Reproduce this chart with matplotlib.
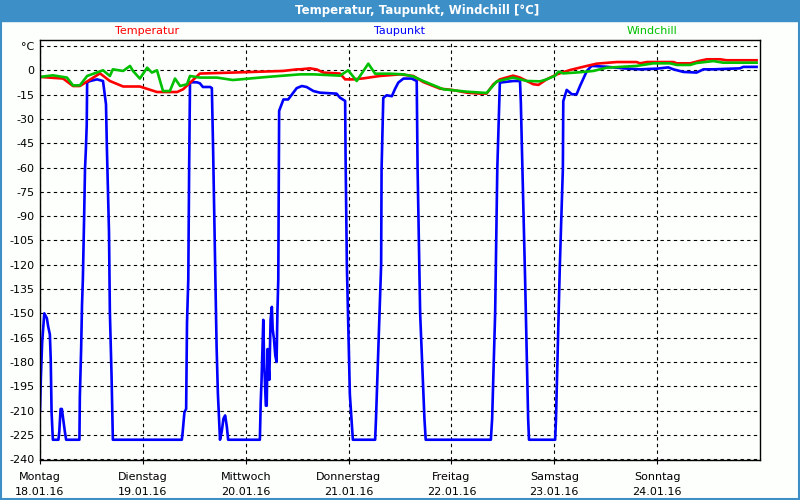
import numpy as np
import matplotlib.pyplot as plt
from matplotlib.patches import Rectangle

# hours since Monday 18.01.16 00:00
tau_h = [0.0, 0.2, 0.5, 1.0, 1.6, 1.9, 2.3, 2.5, 2.7, 3.0, 4.3, 4.5, 4.8, 5.1, 5.4, 5.8, 6.1,
         9.2, 9.3, 9.6, 9.8, 10.0, 10.1, 10.3, 10.5, 10.7, 10.9, 11.0, 11.7, 13.3, 14.7, 15.4, 15.6,
         16.1, 16.3, 16.7, 17.0, 33.1, 33.3, 33.7, 34.1, 34.3, 34.6, 34.8, 35.0, 36.6, 37.3, 38.0,
         39.7, 40.1, 40.4, 40.8, 41.2, 41.5, 42.0, 42.4, 42.8, 43.2, 43.6, 43.9, 51.3, 51.5, 51.7,
         52.1, 52.3, 52.7, 52.9, 53.1, 53.5, 53.8, 54.1, 54.3, 54.6, 54.9, 55.2, 55.4, 55.6, 55.8,
         56.8, 57.9, 59.1, 59.9, 61.1, 62.2, 63.8, 65.3, 69.2, 70.0, 71.2, 71.3, 71.6, 72.3, 73.0,
         78.2, 78.4, 79.6, 79.7, 80.1, 80.9, 82.1, 82.8, 83.6, 84.8, 86.7, 87.9, 88.1, 88.7, 89.7,
         90.0, 105.2, 105.5, 106.2, 106.7, 107.3, 110.4, 112.0, 112.2, 112.4, 113.2, 113.9, 114.1,
         120.2, 120.4, 121.3, 122.0, 122.1, 122.9, 124.1, 125.2, 126.0, 127.6, 128.7, 132.2, 136.1,
         140.0, 143.9, 146.6, 147.8, 150.1, 153.2, 154.8, 157.1, 163.3, 164.1, 167.2]
tau_v = [-210, -190, -168, -150, -153, -158, -163, -178, -211, -228, -228, -223, -209, -209, -215, -223, -228,
         -228, -201, -172, -145, -129, -117, -90, -61, -49, -34, -7.4, -6.6, -5.6, -6.6, -21, -47,
         -100, -149, -189, -228, -228, -223, -211, -209, -156, -129, -60, -7.4, -7.4, -8, -10.3,
         -10.3, -11, -50, -110, -170, -199, -228, -223, -215, -213, -220, -228, -228, -205, -191,
         -154, -180, -207, -207, -172, -191, -154, -146, -160, -166, -176, -180, -149, -129, -25,
         -18, -18, -13.8, -11, -9.7, -10.3, -12.8, -13.8, -14.4, -16.9, -18.9, -53, -120, -200, -228,
         -228, -215, -120, -61, -17, -15.4, -16, -11.7, -7.6, -5.1, -5.1, -6.6, -60, -150, -215,
         -228, -228, -215, -150, -61, -7.6, -6.6, -6.6, -20, -43, -130, -215, -228,
         -228, -215, -120, -61, -19, -12.1, -14.8, -14.8, -9.7, -0.4, 2.7, 2.2, 1.2,
         0.6, 1.0, 1.8, 0.6, -1, -1.4, 0.6, 0.6, 1.2, 2.1, 2.1]

temp_h = [0, 5.4, 7.7, 9.3, 14.0, 16.3, 19.4, 23.3, 27.3, 32.0, 33.4, 37.3, 45.0, 56.7, 60.0, 60.7,
          63.0, 64.6, 66.1, 70.0, 71.2, 73.1, 75.4, 79.3, 84.0, 87.1, 89.4, 93.3, 96.4, 99.6, 102.7,
          104.2, 105.8, 107.3, 110.4, 112.0, 115.1, 116.3, 118.2, 120.6, 123.7, 127.6, 129.9, 134.6,
          139.2, 140.0, 141.6, 147.8, 148.6, 151.7, 154.0, 155.6, 158.7, 160.2, 167.2]
temp_v = [-4.1, -5.1, -9.7, -9.7, -1.9, -6.6, -10, -10, -13.4, -13.4, -11.7, -2, -1.4, -0.4, 0.6, 0.6,
          1.2, 0.5, -1.4, -2, -5.6, -5.6, -5, -3.5, -2.5, -3.5, -7.2, -11.3, -12.2, -13.8, -14.4,
          -14.4, -8.6, -5.6, -3.3, -4.5, -8.6, -9, -5.6, -2.5, 0.2, 2.7, 4.1, 5.1,
          5.1, 4.3, 5.1, 5.1, 4.3, 4.3, 5.9, 6.8, 6.8, 6.2, 6.2]

wind_h = [0, 3.0, 6.3, 7.7, 9.3, 11.0, 14.7, 16.3, 17.0, 19.4, 21.0, 21.7, 23.3, 25.0, 26.1, 27.3,
          28.7, 30.3, 31.5, 32.7, 34.3, 35.0, 37.3, 41.3, 45.0, 53.0, 60.7, 63.8, 70.0, 71.9, 73.9,
          76.6, 78.2, 81.7, 84.8, 87.1, 89.4, 94.1, 99.6, 104.2, 106.6, 110.4, 113.6, 116.7, 118.2,
          120.2, 121.0, 122.1, 126.0, 129.1, 132.2, 139.2, 143.1, 147.0, 148.6, 151.7, 153.2, 157.1,
          159.4, 167.2]
wind_v = [-4.1, -3.1, -4.5, -9.3, -9.3, -3.5, 0, -3.5, 0.6, -0.4, 2.7, -0.4, -5.1, 1.6, -1.4, 0,
          -12.8, -12.8, -5.1, -9.7, -8.6, -3.5, -4.5, -4.5, -6, -4.1, -2.5, -2.5, -3.3, 0, -6.6,
          4.1, -2.1, -2.1, -2.5, -3.8, -6.6, -11.7, -13.2, -14, -6.8, -4.5, -6.6, -6.8, -5.6,
          -3.3, -0.8, -1.9, -1.2, -0.4, 1.6, 2.7, 4.3, 4.3, 3.3, 3.3, 4.5, 5.7,
          4.7, 4.7]

days = ['Montag', 'Dienstag', 'Mittwoch', 'Donnerstag', 'Freitag', 'Samstag', 'Sonntag']
dates = ['18.01.16', '19.01.16', '20.01.16', '21.01.16', '22.01.16', '23.01.16', '24.01.16']
yticks = list(range(15, -241, -15))

titlebar = '#3d8fc8'

fig = plt.figure(figsize=(8, 5), dpi=100, facecolor='#fcfffc')
ax = fig.add_axes([0.05, 0.08, 0.90, 0.84])
ax.set_facecolor('#fcfffc')

ax.plot(np.array(tau_h) / 24, tau_v, color='#0000ff', lw=1.9)
ax.plot(np.array(temp_h) / 24, temp_v, color='#ff0000', lw=1.9)
ax.plot(np.array(wind_h) / 24, wind_v, color='#00c000', lw=1.9)

ax.set_xlim(0, 7)
ax.set_ylim(-240.5, 18.7)
ax.set_yticks(yticks)
ax.set_yticklabels(['°C'] + [str(v) for v in yticks[1:]])
ax.set_xticks(range(7))
ax.set_xticklabels([d + '\n' + t for d, t in zip(days, dates)], linespacing=1.6)
ax.tick_params(axis='y', length=0, pad=4, labelsize=8)
ax.tick_params(axis='x', length=3, pad=6, labelsize=8, direction='out')
ax.grid(True, color='black', linestyle=(0, (3, 3)), linewidth=0.8)
for s in ax.spines.values():
    s.set_linewidth(1.0)

# legend labels above the plot
ax.text(0.149, 1.022, 'Temperatur', color='#ff0000', transform=ax.transAxes, ha='center', va='center', fontsize=8)
ax.text(0.499, 1.022, 'Taupunkt', color='#0000ff', transform=ax.transAxes, ha='center', va='center', fontsize=8)
ax.text(0.85, 1.022, 'Windchill', color='#00c000', transform=ax.transAxes, ha='center', va='center', fontsize=8)

# title bar and window frame
fig.patches.append(Rectangle((0, 0.959), 1, 0.041, transform=fig.transFigure, color=titlebar, zorder=0))
fig.patches.append(Rectangle((0.001, 0.002), 0.998, 0.996, transform=fig.transFigure, fill=False,
                             edgecolor=titlebar, linewidth=1.5, zorder=0))
fig.text(0.521, 0.979, 'Temperatur, Taupunkt, Windchill [°C]', color='white', fontsize=8.5,
         fontweight='bold', ha='center', va='center')

fig.savefig('out.png', dpi=100, facecolor=fig.get_facecolor())
